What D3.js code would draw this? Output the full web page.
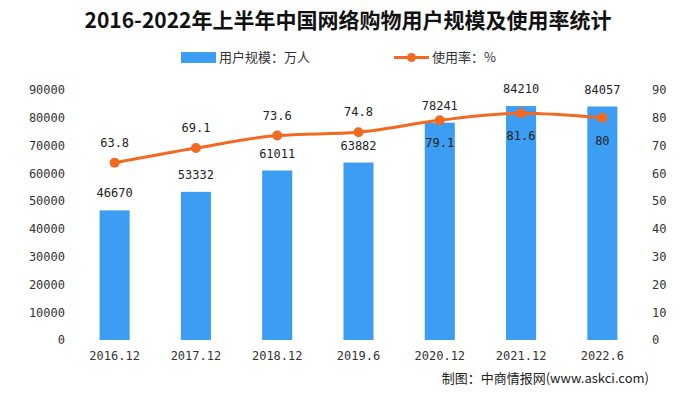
<!DOCTYPE html>
<html>
<head>
<meta charset="utf-8">
<script src="https://cdn.jsdelivr.net/npm/d3@7"></script>
<style>
  body { margin: 0; background: #fff; }
  svg { display: block; }
</style>
</head>
<body>
<div id="chart"></div>
<script>
var categories = ["2016.12", "2017.12", "2018.12", "2019.6", "2020.12", "2021.12", "2022.6"];
var users = [46670, 53332, 61011, 63882, 78241, 84210, 84057];
var rates = [63.8, 69.1, 73.6, 74.8, 79.1, 81.6, 80];
var leftTicks = [0, 10000, 20000, 30000, 40000, 50000, 60000, 70000, 80000, 90000];
var rightTicks = [0, 10, 20, 30, 40, 50, 60, 70, 80, 90];

var width = 697, height = 393;
var barColor = "#3d9df2", lineColor = "#f26a21", textColor = "#333";
var numFont = "'DejaVu Sans Mono', monospace";
var cjkFont = "'Noto Sans CJK SC', sans-serif";

var svg = d3.select("#chart").append("svg")
    .attr("width", width)
    .attr("height", height);

var x = d3.scaleBand()
    .domain(categories)
    .range([74, 643])
    .paddingInner(0.63)
    .paddingOuter(0.315);

var yLeft = d3.scaleLinear().domain([0, 90000]).range([340, 90]);
var yRight = d3.scaleLinear().domain([0, 90]).range([340, 90]);

// title
svg.append("text")
    .attr("x", 348)
    .attr("y", 28)
    .attr("text-anchor", "middle")
    .style("font-family", cjkFont)
    .style("font-weight", "bold")
    .style("font-size", "21px")
    .style("fill", "#111")
    .text("2016-2022年上半年中国网络购物用户规模及使用率统计");

// legend
svg.append("rect")
    .attr("x", 181).attr("y", 52)
    .attr("width", 35).attr("height", 11)
    .style("fill", barColor);
svg.append("text")
    .attr("x", 219).attr("y", 62)
    .style("font-family", cjkFont).style("font-size", "13px")
    .style("fill", textColor)
    .text("用户规模：万人");
svg.append("line")
    .attr("x1", 394).attr("x2", 429)
    .attr("y1", 57.5).attr("y2", 57.5)
    .style("stroke", lineColor).style("stroke-width", 3);
svg.append("circle")
    .attr("cx", 411.5).attr("cy", 57.5).attr("r", 4.5)
    .style("fill", lineColor);
svg.append("text")
    .attr("x", 432).attr("y", 62)
    .style("font-family", cjkFont).style("font-size", "13px")
    .style("fill", textColor)
    .text("使用率：%");

// left axis
var leftAxis = svg.append("g")
    .attr("transform", "translate(72,0)")
    .call(d3.axisLeft(yLeft).tickValues(leftTicks).tickSize(0).tickPadding(7).tickFormat(d3.format("d")));
leftAxis.select(".domain").remove();

// right axis
var rightAxis = svg.append("g")
    .attr("transform", "translate(645,0)")
    .call(d3.axisRight(yRight).tickValues(rightTicks).tickSize(0).tickPadding(7));
rightAxis.select(".domain").remove();

// x axis
var xAxis = svg.append("g")
    .attr("transform", "translate(0,340)")
    .call(d3.axisBottom(x).tickSize(0).tickPadding(11));
xAxis.select(".domain").remove();

svg.selectAll(".tick text")
    .style("font-family", numFont)
    .style("font-size", "12px")
    .style("fill", textColor);

// bars
svg.selectAll(".bar")
    .data(users)
    .enter()
    .append("rect")
    .attr("class", "bar")
    .attr("x", function(d, i) { return x(categories[i]); })
    .attr("y", function(d) { return yLeft(d); })
    .attr("width", x.bandwidth())
    .attr("height", function(d) { return yLeft(0) - yLeft(d); })
    .style("fill", barColor);

svg.selectAll(".bar-label")
    .data(users)
    .enter()
    .append("text")
    .attr("class", "bar-label")
    .attr("x", function(d, i) { return x(categories[i]) + x.bandwidth() / 2; })
    .attr("y", function(d) { return yLeft(d) - 13; })
    .attr("text-anchor", "middle")
    .style("font-family", numFont)
    .style("font-size", "12px")
    .style("fill", "#222")
    .text(function(d) { return d; });

// line
var cx = function(i) { return x(categories[i]) + x.bandwidth() / 2; };
var line = d3.line()
    .x(function(d, i) { return cx(i); })
    .y(function(d) { return yRight(d); })
    .curve(d3.curveMonotoneX);

svg.append("path")
    .datum(rates)
    .attr("d", line)
    .style("fill", "none")
    .style("stroke", lineColor)
    .style("stroke-width", 3);

svg.selectAll(".dot")
    .data(rates)
    .enter()
    .append("circle")
    .attr("class", "dot")
    .attr("cx", function(d, i) { return cx(i); })
    .attr("cy", function(d) { return yRight(d); })
    .attr("r", 5)
    .style("fill", lineColor);

// first four labels above the line, the rest below
svg.selectAll(".rate-label")
    .data(rates)
    .enter()
    .append("text")
    .attr("class", "rate-label")
    .attr("x", function(d, i) { return cx(i); })
    .attr("y", function(d, i) { return i < 4 ? yRight(d) - 16 : yRight(d) + 27; })
    .attr("text-anchor", "middle")
    .style("font-family", numFont)
    .style("font-size", "12px")
    .style("fill", "#222")
    .text(function(d) { return d; });

// source
svg.append("text")
    .attr("x", 649).attr("y", 383)
    .attr("text-anchor", "end")
    .style("font-family", cjkFont).style("font-size", "13px")
    .style("fill", "#222")
    .text("制图：中商情报网(www.askci.com)");
</script>
</body>
</html>
